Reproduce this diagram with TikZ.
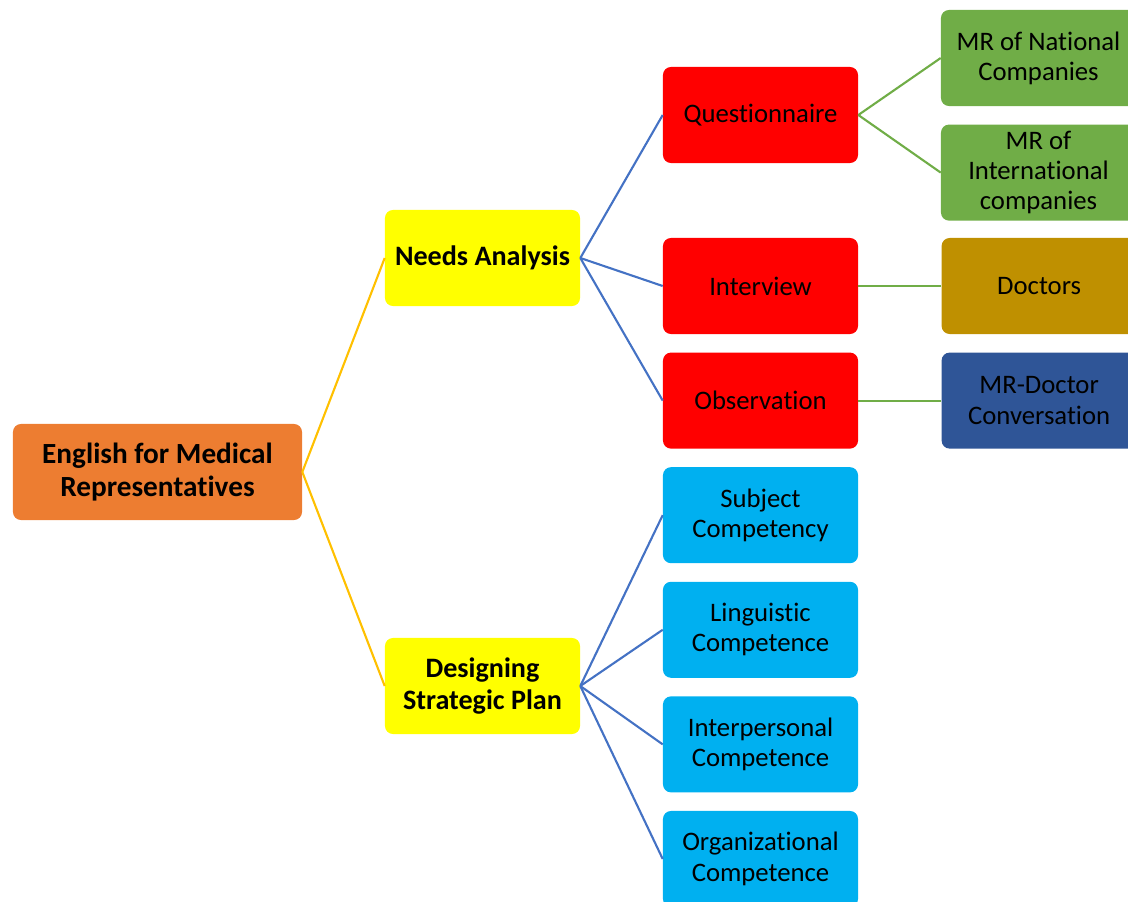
\documentclass[tikz,border=0pt]{standalone}
\usepackage{fontspec}
\setmainfont{Carlito}[Ligatures={NoCommon,NoContextual},Contextuals=NoAlternate]
\usepackage{xcolor}
\usetikzlibrary{positioning}
\definecolor{rootorange}{HTML}{ED7D31}
\definecolor{boxyellow}{HTML}{FFFF00}
\definecolor{boxred}{HTML}{FF0000}
\definecolor{boxcyan}{HTML}{00B0F0}
\definecolor{boxgreen}{HTML}{70AD47}
\definecolor{boxgold}{HTML}{BF9000}
\definecolor{boxnavy}{HTML}{2F5597}
\definecolor{lineyellow}{HTML}{FFC000}
\definecolor{lineblue}{HTML}{4472C4}
\definecolor{linegreen}{HTML}{70AD47}
\tikzset{
box/.style={
rounded corners=0.2cm,
minimum width=4.875cm,
minimum height=2.4cm,
align=center,
inner sep=2pt,
font=\fontsize{19}{21.5}\selectfont
},
rootbox/.style={
box,
fill=rootorange,
minimum width=7.225cm,
font=\fontsize{20.8}{23}\selectfont\bfseries
},
topicbox/.style={
box,
fill=boxyellow,
font=\fontsize{20}{23}\selectfont\bfseries
},
link/.style={
line width=1.5pt
}
}
\begin{document}
\begin{tikzpicture}[x=0.025cm,y=-0.025cm,node distance=0.45cm]
\clip (0,0) rectangle (1128,901);
\node[rootbox](root) at (157.5,472){English for Medical\\Representatives};
\node[topicbox](needs) at (482.5,258){Needs Analysis};
\node[topicbox](plan) at (482.5,686){Designing\\Strategic Plan};

\node[box,fill=boxred](quest) at (760.5,115){Questionnaire};
\node[box,fill=boxred](intv) at (760.5,286){Interview};
\node[box,fill=boxred,below=of intv](obs){Observation};
\node[box,fill=boxcyan,below=of obs](subj){Subject\\Competency};
\node[box,fill=boxcyan,below=of subj](ling){Linguistic\\Competence};
\node[box,fill=boxcyan,below=of ling](inter){Interpersonal\\Competence};
\node[box,fill=boxcyan,below=of inter](org){Organizational\\Competence};

\node[box,fill=boxgreen](natl) at (1038.5,58){MR of National\\Companies};
\node[box,fill=boxgreen,below=of natl](intl){MR of\\International\\companies};
\node[box,fill=boxgold,right=2.075cm of intv](doc){Doctors};
\node[box,fill=boxnavy,right=2.075cm of obs](conv){MR-Doctor\\Conversation};

\foreach \y in {needs,plan}
\draw[link,lineyellow](root.east)--(\y.west);
\foreach \y in {quest,intv,obs}
\draw[link,lineblue](needs.east)--(\y.west);
\foreach \y in {subj,ling,inter,org}
\draw[link,lineblue](plan.east)--(\y.west);
\foreach \x/\y in {quest/natl,quest/intl,intv/doc,obs/conv}
\draw[link,linegreen](\x.east)--(\y.west);
\end{tikzpicture}
\end{document}
